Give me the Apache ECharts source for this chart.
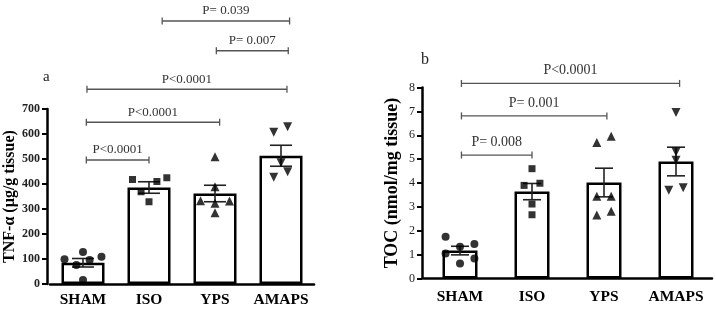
<!DOCTYPE html>
<html>
<head>
<meta charset="utf-8">
<script src="https://cdn.jsdelivr.net/npm/echarts@6/dist/echarts.min.js"></script>
<style>
html,body{margin:0;padding:0;background:#fff;}
#chart{width:716px;height:309px;}
</style>
</head>
<body>
<div id="chart"></div>
<script>
var categories = ['SHAM', 'ISO', 'YPS', 'AMAPS'];

// panel a - TNF-alpha
var tnfMean = [85, 386, 362, 513];
var tnfSem = [17, 23, 33, 42];
var tnfValues = [
    [99, 76, 128, 96, 109, 16],
    [418, 369, 410, 425, 329],
    [509, 389, 333, 332, 323, 285],
    [607, 629, 427, 449, 485]
];
var tnfJitter = [
    [-0.28, -0.1, 0, 0.1, 0.28, 0],
    [-0.25, -0.12, 0.12, 0.27, 0],
    [0, 0, -0.22, 0.22, 0, 0],
    [-0.11, 0.1, -0.11, 0.1, 0]
];
var tnfBrackets = [[0.05, 1.0, 496], [0.05, 2.07, 647], [0.06, 3.09, 779], [2.02, 3.11, 933], [1.2, 3.13, 1052]];
var tnfPLabels = ['P<0.0001', 'P<0.0001', 'P<0.0001', 'P= 0.007', 'P= 0.039'];

// panel b - TOC
var tocMean = [1.17, 3.64, 4.02, 4.9];
var tocSem = [0.18, 0.34, 0.6, 0.6];
var tocValues = [
    [1.75, 1.05, 1.33, 0.63, 1.45, 0.84],
    [4.6, 3.9, 3.99, 3.12, 2.67],
    [5.7, 5.96, 3.45, 3.45, 2.66, 2.82],
    [6.95, 5.3, 4.95, 3.7, 3.8]
];
var tocJitter = [
    [-0.2, -0.2, 0, 0, 0.2, 0.2],
    [0, -0.11, 0.11, 0, 0],
    [-0.1, 0.1, -0.1, 0.1, -0.1, 0.1],
    [0, 0, 0, -0.1, 0.1]
];
var tocBrackets = [[0.02, 1.0, 5.17], [0.02, 2.04, 6.81], [0.02, 3.05, 8.17]];
var tocPLabels = ['P= 0.008', 'P= 0.001', 'P<0.0001'];

var serif = '"Liberation Serif", "DejaVu Serif", serif';
var symbols = ['circle', 'rect', 'triangle', 'triangle'];
var rotations = [0, 0, 0, 180];
var symbolSizes = [8, 7, 9, 9];

var myChart = echarts.init(document.getElementById('chart'));

function catAxis(grid, margin) {
    return {
        type: 'category', gridIndex: grid, data: categories,
        axisLine: {onZero: false, lineStyle: {color: '#000', width: 2.5}},
        axisTick: {alignWithLabel: true, length: 4, lineStyle: {color: '#000', width: 2}},
        axisLabel: {interval: 0, margin: margin, color: '#000', fontFamily: serif, fontWeight: 'bold', fontSize: 15.5}
    };
}
function hiddenAxis(grid) {
    return {type: 'value', gridIndex: grid, min: -0.5, max: 3.5, show: false};
}
function valAxis(grid, max, interval, offset, name, nameGap, nameSize, labelWeight) {
    return {
        type: 'value', gridIndex: grid, min: 0, max: max, interval: interval, offset: offset,
        splitLine: {show: false},
        axisLine: {show: true, onZero: false, lineStyle: {color: '#000', width: 2.5}},
        axisTick: {show: true, length: 5, lineStyle: {color: '#000', width: 2}},
        axisLabel: {margin: 7, color: '#222', fontFamily: serif, fontWeight: labelWeight, fontSize: 12},
        name: name, nameLocation: 'middle', nameGap: nameGap,
        nameTextStyle: {color: '#000', fontFamily: serif, fontWeight: 'bold', fontSize: nameSize}
    };
}

function barSeries(xi, yi, means, width) {
    return {
        type: 'bar', xAxisIndex: xi, yAxisIndex: yi, data: means, barWidth: width, silent: true,
        itemStyle: {color: '#fff', borderColor: '#000', borderWidth: 2.5}, z: 1
    };
}
function errorSeries(xi, yi, means, sems, capW) {
    return {
        type: 'custom', xAxisIndex: xi, yAxisIndex: yi, silent: true, z: 3,
        data: means.map(function (m, i) { return [i, m, sems[i]]; }),
        renderItem: function (params, api) {
            var x = api.value(0), m = api.value(1), s = api.value(2);
            var top = api.coord([x, m + s]);
            var bot = api.coord([x, m - s]);
            var st = {stroke: '#222', lineWidth: 1.6};
            return {type: 'group', children: [
                {type: 'line', shape: {x1: top[0], y1: top[1], x2: bot[0], y2: bot[1]}, style: st},
                {type: 'line', shape: {x1: top[0] - capW / 2, y1: top[1], x2: top[0] + capW / 2, y2: top[1]}, style: st},
                {type: 'line', shape: {x1: bot[0] - capW / 2, y1: bot[1], x2: bot[0] + capW / 2, y2: bot[1]}, style: st}
            ]};
        }
    };
}
function pointSeries(xi, yi, values, jitter) {
    var list = [];
    values.forEach(function (vals, g) {
        list.push({
            type: 'scatter', xAxisIndex: xi, yAxisIndex: yi, silent: true, z: 4,
            symbol: symbols[g], symbolRotate: rotations[g], symbolSize: symbolSizes[g],
            itemStyle: {color: '#000'},
            data: vals.map(function (v, i) { return [g + jitter[g][i], v]; })
        });
    });
    return list;
}
function bracketSeries(xi, yi, brackets, labels, fontSize, gap) {
    return {
        type: 'custom', xAxisIndex: xi, yAxisIndex: yi, silent: true, clip: false, z: 5,
        data: brackets,
        renderItem: function (params, api) {
            var a = api.coord([api.value(0), api.value(2)]);
            var b = api.coord([api.value(1), api.value(2)]);
            var st = {stroke: '#555', lineWidth: 1.3};
            return {type: 'group', children: [
                {type: 'line', shape: {x1: a[0], y1: a[1], x2: b[0], y2: b[1]}, style: st},
                {type: 'line', shape: {x1: a[0], y1: a[1] - 3.5, x2: a[0], y2: a[1] + 3.5}, style: st},
                {type: 'line', shape: {x1: b[0], y1: b[1] - 3.5, x2: b[0], y2: b[1] + 3.5}, style: st},
                {type: 'text', x: (a[0] + b[0]) / 2, y: a[1] - gap, style: {
                    text: labels[params.dataIndex], fill: '#333', align: 'center', verticalAlign: 'middle',
                    fontFamily: serif, fontSize: fontSize
                }}
            ]};
        }
    };
}

var series = [];
series.push(barSeries(0, 0, tnfMean, 43));
series.push(errorSeries(1, 0, tnfMean, tnfSem, 22));
series = series.concat(pointSeries(1, 0, tnfValues, tnfJitter));
series.push(bracketSeries(1, 0, tnfBrackets, tnfPLabels, 13, 10));
series.push(barSeries(2, 1, tocMean, 35));
series.push(errorSeries(3, 1, tocMean, tocSem, 18));
series = series.concat(pointSeries(3, 1, tocValues, tocJitter));
series.push(bracketSeries(3, 1, tocBrackets, tocPLabels, 14, 13));

myChart.setOption({
    animation: false,
    backgroundColor: '#fff',
    title: [
        {text: 'a', left: 38, top: 65, textStyle: {fontFamily: serif, fontWeight: 'normal', fontSize: 15, color: '#222'}},
        {text: 'b', left: 416, top: 47, textStyle: {fontFamily: serif, fontWeight: 'normal', fontSize: 16, color: '#222'}}
    ],
    grid: [
        {left: 50, right: 402, top: 109, bottom: 25},
        {left: 424, right: 4, top: 87.5, bottom: 30.5}
    ],
    xAxis: [catAxis(0, 8), hiddenAxis(0), catAxis(1, 10), hiddenAxis(1)],
    yAxis: [
        valAxis(0, 700, 100, 3, 'TNF-α (µg/g tissue)', 28, 16, 'bold'),
        valAxis(1, 8, 1, 2, 'TOC (nmol/mg tissue)', 21, 18, 'normal')
    ],
    series: series
});
</script>
</body>
</html>
